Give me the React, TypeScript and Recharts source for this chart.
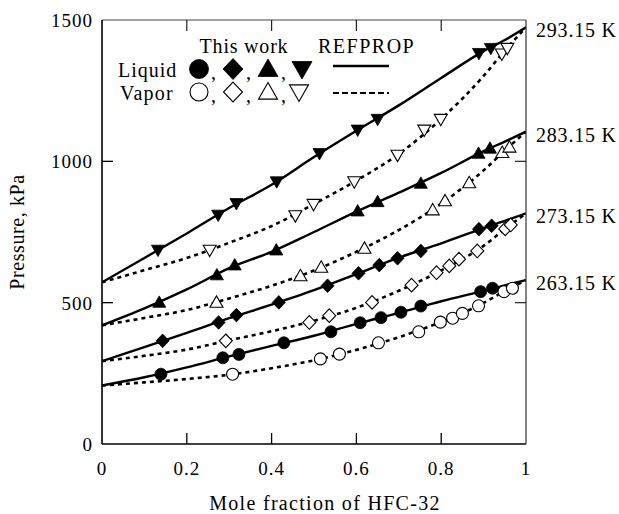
import React from 'react';
import { ComposedChart, Line, Scatter, XAxis, YAxis, ReferenceDot } from 'recharts';

const FONT = '"Liberation Serif", "Times New Roman", "DejaVu Serif", serif';

// Axis ticks
const xTicks = [0, 0.2, 0.4, 0.6, 0.8, 1];
const yTicks = [0, 500, 1000, 1500];
const xDomain = [0, 1];
const yDomain = [0, 1500];
const temperatureLabels = ['263.15 K', '273.15 K', '283.15 K', '293.15 K'];

// REFPROP curves (mole fraction grid and pressures, kPa)
const curveX = [0, 0.1, 0.2, 0.3, 0.4, 0.5, 0.6, 0.7, 0.8, 0.9, 0.95, 1];
const bubble263 = [207, 236, 271, 310, 347, 383, 425, 464, 505, 542, 561, 580];
const dew263 = [207, 218, 230, 245, 268, 296, 333, 378, 432, 499, 541, 580];
const bubble273 = [293, 343, 393, 445, 493, 544, 601, 659, 710, 764, 789, 816];
const dew273 = [293, 312, 334, 367, 399, 436, 482, 542, 614, 701, 760, 816];
const bubble283 = [420, 480, 547, 622, 680, 750, 822, 889, 959, 1036, 1070, 1105];
const dew283 = [420, 446, 474, 515, 560, 614, 680, 757, 850, 968, 1038, 1105];
const bubble293 = [572, 658, 745, 835, 917, 1015, 1108, 1198, 1295, 1390, 1429, 1474];
const dew293 = [572, 615, 658, 712, 771, 849, 932, 1026, 1150, 1302, 1392, 1474];

// This work: liquid
const liq263X = [0.139, 0.285, 0.323, 0.429, 0.540, 0.609, 0.658, 0.705, 0.752, 0.893, 0.921];
const liq263P = [247, 305, 317, 358, 397, 429, 447, 466, 488, 539, 551];
const liq273X = [0.143, 0.275, 0.317, 0.417, 0.532, 0.605, 0.654, 0.697, 0.752, 0.889, 0.919];
const liq273P = [365, 430, 456, 501, 560, 604, 633, 657, 683, 760, 772];
const liq283X = [0.135, 0.271, 0.313, 0.411, 0.603, 0.650, 0.752, 0.888, 0.915];
const liq283P = [501, 598, 633, 686, 824, 857, 922, 1028, 1046];
const liq293X = [0.132, 0.274, 0.317, 0.412, 0.513, 0.603, 0.650, 0.889, 0.917];
const liq293P = [686, 810, 851, 928, 1028, 1111, 1149, 1382, 1400];

// This work: vapor
const vap263X = [0.308, 0.515, 0.560, 0.652, 0.747, 0.798, 0.827, 0.850, 0.888, 0.948, 0.968];
const vap263P = [247, 301, 318, 358, 397, 431, 445, 462, 489, 539, 551];
const vap273X = [0.292, 0.489, 0.536, 0.637, 0.730, 0.789, 0.819, 0.842, 0.885, 0.951, 0.964];
const vap273P = [365, 430, 454, 501, 562, 606, 630, 654, 683, 761, 775];
const vap283X = [0.270, 0.468, 0.517, 0.619, 0.780, 0.809, 0.866, 0.944, 0.961];
const vap283P = [501, 595, 625, 692, 828, 860, 924, 1031, 1050];
const vap293X = [0.254, 0.456, 0.499, 0.595, 0.697, 0.760, 0.799, 0.943, 0.956];
const vap293P = [686, 808, 848, 928, 1022, 1111, 1149, 1380, 1400];

// Layout (pixels)
const W = 619;
const H = 514;
const PLOT_L = 102;
const PLOT_R = 526;
const PLOT_T = 20;
const PLOT_B = 444;
const TICK_LEN = 11;
const X_MARGIN = 18;
const Y_MARGIN = 9;

const pts = (xs: number[], ps: number[]) => xs.map((x, i) => ({ x, p: ps[i] }));

const curves = [
  { data: pts(curveX, bubble263), dashed: false },
  { data: pts(curveX, dew263), dashed: true },
  { data: pts(curveX, bubble273), dashed: false },
  { data: pts(curveX, dew273), dashed: true },
  { data: pts(curveX, bubble283), dashed: false },
  { data: pts(curveX, dew283), dashed: true },
  { data: pts(curveX, bubble293), dashed: false },
  { data: pts(curveX, dew293), dashed: true },
];

type Kind = 'circle' | 'diamond' | 'up' | 'down';

const marker = (kind: Kind, filled: boolean, s: number) => (props: any) => {
  const { cx, cy } = props;
  if (cx == null || cy == null) return <g />;
  const fill = filled ? '#000' : '#fff';
  const sw = filled ? 0.8 : 1.1;
  if (kind === 'circle') {
    return <circle cx={cx} cy={cy} r={s} fill={fill} stroke="#000" strokeWidth={sw} />;
  }
  if (kind === 'diamond') {
    const pp = `${cx},${cy - s * 1.05} ${cx + s},${cy} ${cx},${cy + s * 1.05} ${cx - s},${cy}`;
    return <polygon points={pp} fill={fill} stroke="#000" strokeWidth={sw} />;
  }
  if (kind === 'up') {
    const pp = `${cx},${cy - s} ${cx + s},${cy + s * 0.75} ${cx - s},${cy + s * 0.75}`;
    return <polygon points={pp} fill={fill} stroke="#000" strokeWidth={sw} />;
  }
  const pp = `${cx},${cy + s} ${cx + s},${cy - s * 0.75} ${cx - s},${cy - s * 0.75}`;
  return <polygon points={pp} fill={fill} stroke="#000" strokeWidth={sw} />;
};

const measured = [
  { data: pts(liq263X, liq263P), kind: 'circle' as Kind, filled: true },
  { data: pts(vap263X, vap263P), kind: 'circle' as Kind, filled: false },
  { data: pts(liq273X, liq273P), kind: 'diamond' as Kind, filled: true },
  { data: pts(vap273X, vap273P), kind: 'diamond' as Kind, filled: false },
  { data: pts(liq283X, liq283P), kind: 'up' as Kind, filled: true },
  { data: pts(vap283X, vap283P), kind: 'up' as Kind, filled: false },
  { data: pts(liq293X, liq293P), kind: 'down' as Kind, filled: true },
  { data: pts(vap293X, vap293P), kind: 'down' as Kind, filled: false },
];

const tempEnds = [bubble263, bubble273, bubble283, bubble293].map((arr, i) => ({
  label: temperatureLabels[i],
  x: curveX[curveX.length - 1],
  p: arr[arr.length - 1],
}));

const BottomTick = (props: any) => {
  const { x, y, payload } = props;
  return (
    <text x={x} y={y} dy="0.71em" textAnchor="middle" fontFamily={FONT} fontSize={19} fill="#000" letterSpacing={1}>
      {String(payload.value)}
    </text>
  );
};

const LeftTick = (props: any) => {
  const { x, y, payload } = props;
  return (
    <text x={x} y={y} dy="0.36em" textAnchor="end" fontFamily={FONT} fontSize={19} fill="#000" letterSpacing={1}>
      {String(payload.value)}
    </text>
  );
};

const sx = (v: number) => PLOT_L + ((v - xDomain[0]) / (xDomain[1] - xDomain[0])) * (PLOT_R - PLOT_L);
const sy = (v: number) => PLOT_B - ((v - yDomain[0]) / (yDomain[1] - yDomain[0])) * (PLOT_B - PLOT_T);

const Overlay = () => {
  const rowL = 69;
  const rowV = 92;
  const xs = [199, 233, 268, 302];
  const kinds: Kind[] = ['circle', 'diamond', 'up', 'down'];
  const commaX = [211, 246, 281];
  const txt = { fontFamily: FONT, fontSize: 20, fill: '#000' } as any;
  const innerX = xTicks.filter((v) => v !== xDomain[0] && v !== xDomain[1]);
  const innerY = yTicks.filter((v) => v !== yDomain[0] && v !== yDomain[1]);
  return (
    <svg width={W} height={H} style={{ position: 'absolute', left: 0, top: 0, pointerEvents: 'none' }}>
      {innerX.map((v) => (
        <g key={'xt' + v}>
          <line x1={sx(v)} x2={sx(v)} y1={PLOT_B} y2={PLOT_B - TICK_LEN} stroke="#000" strokeWidth={1.3} />
          <line x1={sx(v)} x2={sx(v)} y1={PLOT_T} y2={PLOT_T + TICK_LEN} stroke="#222" strokeWidth={1.2} />
        </g>
      ))}
      {innerY.map((v) => (
        <g key={'yt' + v}>
          <line x1={PLOT_L} x2={PLOT_L + TICK_LEN} y1={sy(v)} y2={sy(v)} stroke="#000" strokeWidth={1.3} />
          <line x1={PLOT_R} x2={PLOT_R - TICK_LEN} y1={sy(v)} y2={sy(v)} stroke="#222" strokeWidth={1.2} />
        </g>
      ))}
      <text x={244} y={53} textAnchor="middle" {...txt} letterSpacing={0.8}>This work</text>
      <text x={318} y={53} {...txt} letterSpacing={1.5}>REFPROP</text>
      <text x={118} y={77} {...txt} letterSpacing={1}>Liquid</text>
      <text x={120} y={100} {...txt} letterSpacing={1.2}>Vapor</text>
      {kinds.map((k, i) => (
        <g key={'l' + i}>{marker(k, true, k === 'circle' ? 9.5 : 10)({ cx: xs[i], cy: rowL })}</g>
      ))}
      {kinds.map((k, i) => (
        <g key={'v' + i}>{marker(k, false, k === 'circle' ? 9 : 9.5)({ cx: xs[i] - (k === 'down' ? 3 : 0), cy: rowV })}</g>
      ))}
      {commaX.map((cx, i) => (
        <g key={'c' + i}>
          <text x={cx} y={79} {...txt}>,</text>
          <text x={cx} y={102} {...txt}>,</text>
        </g>
      ))}
      <line x1={333} x2={389} y1={66} y2={66} stroke="#000" strokeWidth={2.5} />
      <line x1={333} x2={389} y1={93} y2={93} stroke="#000" strokeWidth={2} strokeDasharray="6 3" />
      <text transform="translate(24, 232) rotate(-90)" textAnchor="middle" {...txt} letterSpacing={0.6}>
        Pressure, kPa
      </text>
      <text x={325} y={510} textAnchor="middle" {...txt} letterSpacing={1.3}>
        Mole fraction of HFC-32
      </text>
    </svg>
  );
};

export default function App() {
  return (
    <div style={{ position: 'absolute', left: 0, top: 0, width: W, height: H, background: '#fff' }}>
      <ComposedChart
        width={W}
        height={H}
        margin={{ top: PLOT_T - 1, right: W - PLOT_R - 1, bottom: 0, left: 0 }}
      >
        <XAxis
          type="number"
          dataKey="x"
          domain={xDomain}
          ticks={xTicks}
          interval={0}
          allowDataOverflow
          height={H - PLOT_B}
          tickSize={0}
          tickMargin={X_MARGIN}
          tickLine={false}
          axisLine={{ stroke: '#000', strokeWidth: 1.6 }}
          tick={BottomTick}
        />
        <XAxis
          xAxisId="top"
          orientation="top"
          type="number"
          dataKey="x"
          domain={xDomain}
          ticks={xTicks}
          interval={0}
          height={1}
          tick={false}
          tickLine={false}
          axisLine={{ stroke: '#444', strokeWidth: 1 }}
        />
        <YAxis
          type="number"
          dataKey="p"
          domain={yDomain}
          ticks={yTicks}
          interval={0}
          allowDataOverflow
          width={PLOT_L}
          tickSize={0}
          tickMargin={Y_MARGIN}
          tickLine={false}
          axisLine={{ stroke: '#000', strokeWidth: 1.6 }}
          tick={LeftTick}
        />
        <YAxis
          yAxisId="right"
          orientation="right"
          type="number"
          dataKey="p"
          domain={yDomain}
          ticks={yTicks}
          interval={0}
          width={1}
          tick={false}
          tickLine={false}
          axisLine={{ stroke: '#333', strokeWidth: 1.2 }}
        />
        {curves.map((c, i) => (
          <Line
            key={'curve' + i}
            data={c.data}
            dataKey="p"
            type="monotone"
            dot={false}
            activeDot={false}
            stroke="#000"
            strokeWidth={c.dashed ? 2.6 : 2.4}
            strokeDasharray={c.dashed ? '4 4' : undefined}
            isAnimationActive={false}
          />
        ))}
        {measured.map((m, i) => (
          <Scatter
            key={'pts' + i}
            data={m.data}
            dataKey="p"
            shape={marker(m.kind, m.filled, m.kind === 'circle' ? 6 : 6.5)}
            isAnimationActive={false}
          />
        ))}
        {tempEnds.map((t, i) => (
          <ReferenceDot
            key={'t' + i}
            x={t.x}
            y={t.p}
            r={0}
            fill="none"
            stroke="none"
            ifOverflow="visible"
            label={{
              content: (props: any) => {
                const vb = props.viewBox || {};
                return (
                  <text
                    x={(vb.x ?? 0) + (vb.width ?? 0) + 10}
                    y={(vb.y ?? 0) + (vb.height ?? 0) / 2 + 3}
                    dy="0.35em"
                    fontFamily={FONT}
                    fontSize={20}
                    fill="#000"
                    letterSpacing={0.8}
                  >
                    {t.label}
                  </text>
                );
              },
            }}
          />
        ))}
      </ComposedChart>
      <Overlay />
    </div>
  );
}
